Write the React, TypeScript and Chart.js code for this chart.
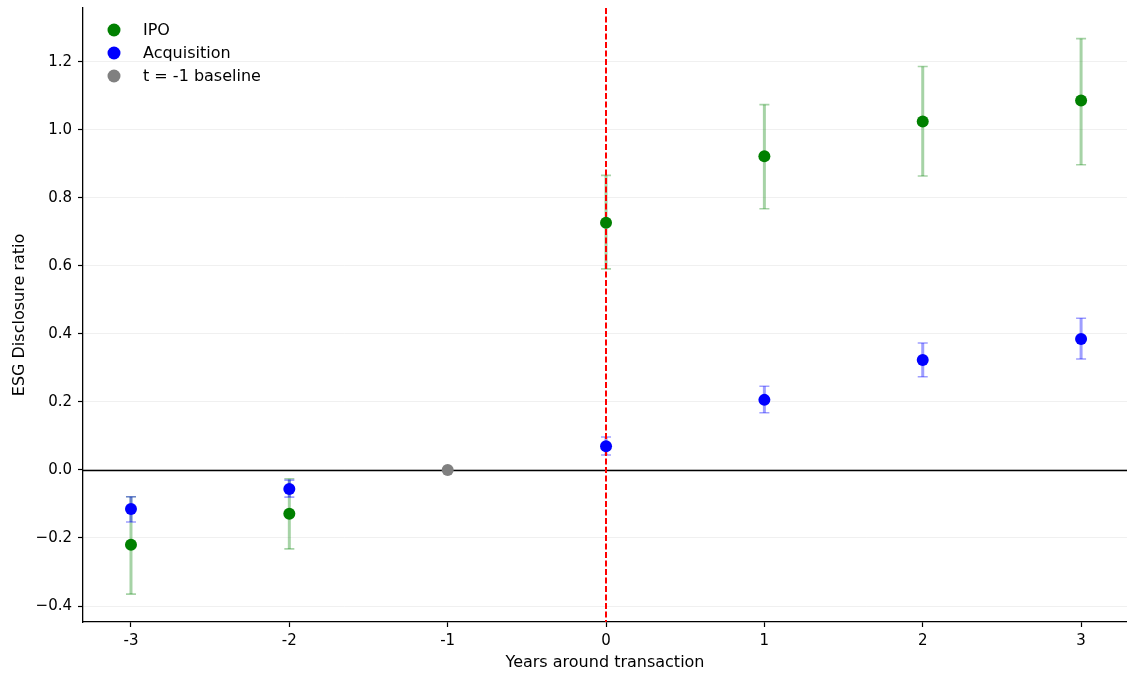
import { useEffect, useRef } from "react";
import { Chart, registerables } from "chart.js";
Chart.register(...registerables);

const years = [-3, -2, 0, 1, 2, 3];
const ipoMean = [-0.22, -0.129, 0.727, 0.922, 1.024, 1.086];
const ipoLow = [-0.365, -0.232, 0.591, 0.768, 0.864, 0.897];
const ipoHigh = [-0.079, -0.026, 0.866, 1.074, 1.186, 1.268];
const acqMean = [-0.115, -0.056, 0.07, 0.206, 0.323, 0.385];
const acqLow = [-0.153, -0.08, 0.044, 0.168, 0.274, 0.326];
const acqHigh = [-0.079, -0.03, 0.097, 0.246, 0.373, 0.446];
const baselineYears = [-1];
const baselineValues = [0];
const xTicks = [-3, -2, -1, 0, 1, 2, 3];
const yTicks = [-0.4, -0.2, 0, 0.2, 0.4, 0.6, 0.8, 1.0, 1.2];

const FONT = "'DejaVu Sans', sans-serif";

const errorSets = [
  { low: ipoLow, high: ipoHigh, color: "rgba(0,128,0,0.35)" },
  { low: acqLow, high: acqHigh, color: "rgba(0,0,255,0.38)" },
];

const legendItems = [
  { label: "IPO", color: "#008000" },
  { label: "Acquisition", color: "#0000ff" },
  { label: "t = -1 baseline", color: "#808080" },
];

const overlayPlugin = {
  id: "overlay",
  afterLayout(chart: any) {
    const ca = chart.chartArea;
    ca.right = chart.width;
    ca.width = ca.right - ca.left;
    const xs = chart.scales.x;
    xs.right = chart.width;
    xs.width = xs.right - xs.left;
    xs.configure();
  },
  beforeDatasetsDraw(chart: any) {
    const { ctx, chartArea, scales } = chart;
    const xs = scales.x;
    const ys = scales.y;
    ctx.save();
    errorSets.forEach((es) => {
      ctx.strokeStyle = es.color;
      years.forEach((yr, i) => {
        const px = xs.getPixelForValue(yr);
        const pLow = ys.getPixelForValue(es.low[i]);
        const pHigh = ys.getPixelForValue(es.high[i]);
        ctx.lineWidth = 3;
        ctx.beginPath();
        ctx.moveTo(px, pLow);
        ctx.lineTo(px, pHigh);
        ctx.stroke();
        ctx.lineWidth = 1.6;
        ctx.beginPath();
        ctx.moveTo(px - 5, pLow);
        ctx.lineTo(px + 5, pLow);
        ctx.moveTo(px - 5, pHigh);
        ctx.lineTo(px + 5, pHigh);
        ctx.stroke();
      });
    });
    // zero line
    const y0 = Math.round(ys.getPixelForValue(0)) + 0.5;
    ctx.strokeStyle = "#000";
    ctx.lineWidth = 1.3;
    ctx.beginPath();
    ctx.moveTo(chartArea.left, y0);
    ctx.lineTo(chartArea.right, y0);
    ctx.stroke();
    // red dashed vertical
    const x0 = Math.round(xs.getPixelForValue(0));
    ctx.strokeStyle = "#ff0000";
    ctx.lineWidth = 2;
    ctx.setLineDash([6, 2.5]);
    ctx.beginPath();
    ctx.moveTo(x0, chartArea.top);
    ctx.lineTo(x0, chartArea.bottom);
    ctx.stroke();
    ctx.restore();
  },
  afterDatasetsDraw(chart: any) {
    const { ctx, chartArea } = chart;
    ctx.save();
    ctx.font = `16px ${FONT}`;
    ctx.textBaseline = "middle";
    legendItems.forEach((it, i) => {
      const cy = chartArea.top + 22 + i * 23;
      ctx.fillStyle = it.color;
      ctx.beginPath();
      ctx.arc(chartArea.left + 31, cy, 6.5, 0, Math.PI * 2);
      ctx.fill();
      ctx.fillStyle = "#000";
      ctx.fillText(it.label, chartArea.left + 60, cy + 1);
    });
    ctx.restore();
  },
};

export default function App() {
  const ref = useRef<HTMLCanvasElement | null>(null);
  useEffect(() => {
    document.body.style.margin = "0";
    const canvas = ref.current!;
    const mk = (label: string, xsArr: number[], ysArr: number[], color: string) => ({
      label,
      data: xsArr.map((x, i) => ({ x, y: ysArr[i] })),
      backgroundColor: color,
      borderColor: color,
      pointRadius: 6,
      borderWidth: 0,
    });
    const chart = new Chart(canvas, {
      type: "scatter",
      data: {
        datasets: [
          mk("IPO", years, ipoMean, "#008000"),
          mk("Acquisition", years, acqMean, "#0000ff"),
          mk("t = -1 baseline", baselineYears, baselineValues, "#808080"),
        ],
      },
      options: {
        animation: false,
        responsive: false,
        devicePixelRatio: 1,
        layout: { padding: { top: 8, right: 0, left: 0, bottom: 0 } },
        plugins: { legend: { display: false }, tooltip: { enabled: false } },
        scales: {
          x: {
            type: "linear",
            min: -3.303,
            max: 3.29,
            afterBuildTicks: (s: any) => {
              s.ticks = xTicks.map((v) => ({ value: v }));
            },
            afterFit: (s: any) => {
              s.height = 51;
              s.paddingLeft = 0;
              s.paddingRight = 0;
            },
            ticks: {
              color: "#000",
              font: { family: FONT, size: 15 },
              padding: 5,
              callback: (v: any) => String(v),
            },
            grid: {
              drawOnChartArea: false,
              tickColor: "#000",
              tickLength: 5,
              tickWidth: 1.2,
            },
            border: { display: true, color: "#000", width: 1.3 },
            title: {
              display: true,
              text: "Years around transaction",
              color: "#000",
              font: { family: FONT, size: 16 },
              padding: { top: 0, bottom: 1 },
            },
          },
          y: {
            type: "linear",
            min: -0.447,
            max: 1.358,
            afterBuildTicks: (s: any) => {
              s.ticks = yTicks.map((v) => ({ value: v }));
            },
            afterFit: (s: any) => {
              s.width = 83;
              s.paddingTop = 0;
              s.paddingBottom = 0;
            },
            ticks: {
              color: "#000",
              font: { family: FONT, size: 15 },
              padding: 6,
              callback: (v: any) => Number(v).toFixed(1).replace("-", "\u2212"),
            },
            grid: {
              color: "rgba(0,0,0,0.06)",
              tickColor: "#000",
              tickLength: 5,
              tickWidth: 1.2,
            },
            border: { display: true, color: "#000", width: 1.3 },
            title: {
              display: true,
              text: "ESG Disclosure ratio",
              color: "#000",
              font: { family: FONT, size: 16 },
              padding: { top: 10, bottom: 0 },
            },
          },
        },
      },
      plugins: [overlayPlugin],
    } as any);
    return () => chart.destroy();
  }, []);
  return (
    <canvas
      ref={ref}
      width={1127}
      height={673}
      style={{ display: "block", width: 1127, height: 673 }}
    />
  );
}
